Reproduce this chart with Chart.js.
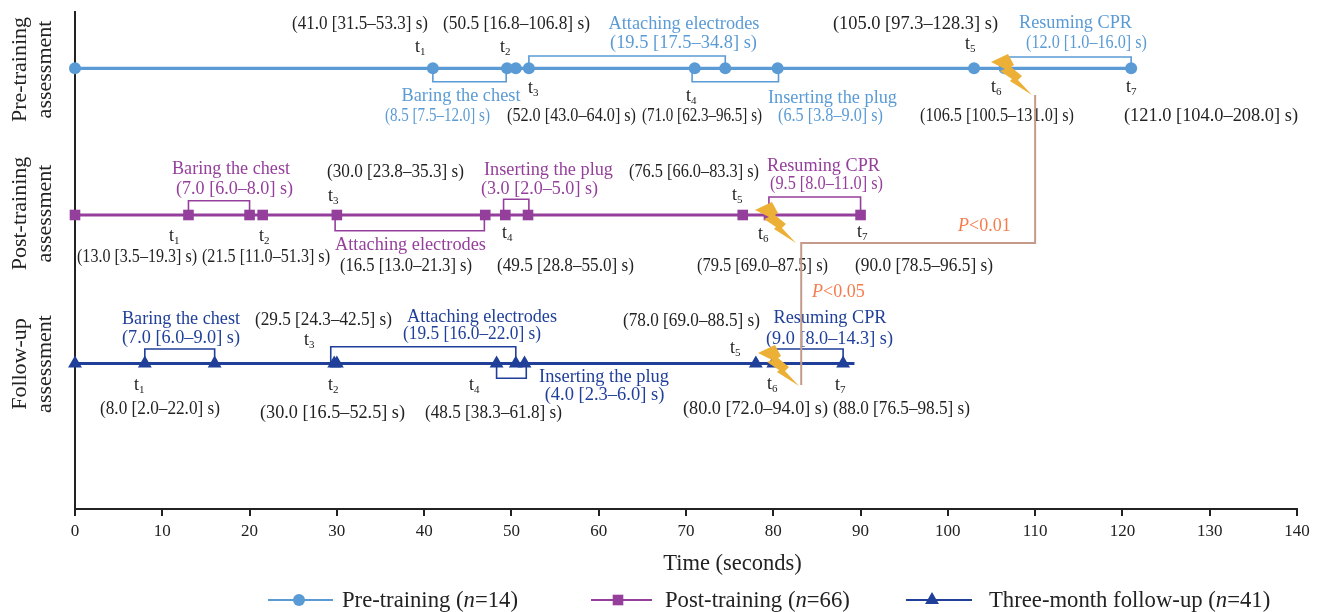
<!DOCTYPE html>
<html><head><meta charset="utf-8">
<style>html,body{margin:0;padding:0;background:#fff}canvas{display:block}</style>
<script src="https://cdn.jsdelivr.net/npm/chart.js@4/dist/chart.umd.js"></script>
</head><body><canvas id="c" width="1322" height="612"></canvas>
<script>
// ---- data (seconds) ----
const preTimes    = [0, 41, 49.5, 50.5, 52, 71, 74.5, 80.5, 103, 106.5, 121];
const postTimes   = [0, 13, 20, 21.5, 30, 47, 49.3, 51.9, 76.5, 79.5, 90];
const followTimes = [0, 8, 16, 29.7, 30, 48.3, 50.5, 51.5, 78, 80, 88, 89.3];
const followRadii = [8, 8, 8, 8, 8, 8, 8, 8, 8, 8, 8, 0];
const rowLevels = {pre: 56.3, post: 203, follow: 351.5};
const xTicks = [0, 10, 20, 30, 40, 50, 60, 70, 80, 90, 100, 110, 120, 130, 140];

// interval brackets: [from s, to s, bracket level]
const preBrackets    = [[41, 49.4, 69.7], [52, 74.5, 44], [70.7, 80.6, 69.7], [106.5, 121, 45]];
const postBrackets   = [[13, 20, 188.7], [29.8, 46.9, 218.7], [49.1, 52, 187.3], [79.5, 90, 185]];
const followBrackets = [[8, 16, 337], [29.3, 50.5, 334.7], [48.3, 51.7, 366.3], [80, 88, 337]];

// bolt anchors: [s, level]
const boltAnchors = [[104.94, 42], [77.9, 190], [78.25, 333]];
// significance connector: [s, level] vertices
const pConnector = [[110, 83], [110, 231], [83.2, 231], [83.2, 373]];

const COL = {pre:'#5B9BD5', post:'#953F9C', follow:'#1F3F99', ink:'#222222',
             bolt:'#EBB035', conn:'#C49B8B', p:'#F47C4C'};
const FAM = '"Liberation Serif","Times New Roman",serif';

// ---- text: [string, centre x, centre y, width] ----
const blackLabels = [
 ['(41.0 [31.5–53.3] s)',360,23,136],['(50.5 [16.8–106.8] s)',516.5,23,147],['(105.0 [97.3–128.3] s)',915.5,23,165],
 ['(52.0 [43.0–64.0] s)',571.5,115,129],['(71.0 [62.3–96.5] s)',702,115,120],['(106.5 [100.5–131.0] s)',997,115,154],['(121.0 [104.0–208.0] s)',1211,115,174],
 ['(30.0 [23.8–35.3] s)',395.5,171,137],['(76.5 [66.0–83.3] s)',694,171,130],
 ['(13.0 [3.5–19.3] s)',137,256,120],['(21.5 [11.0–51.3] s)',266,256,128],['(16.5 [13.0–21.3] s)',406,265,132],['(49.5 [28.8–55.0] s)',565.5,265,137],
 ['(79.5 [69.0–87.5] s)',762.5,265,131],['(90.0 [78.5–96.5] s)',924,265,138],
 ['(29.5 [24.3–42.5] s)',323.5,319,137],['(78.0 [69.0–88.5] s)',691.5,320,137],
 ['(8.0 [2.0–22.0] s)',160,408,120],['(30.0 [16.5–52.5] s)',332.5,412,145],['(48.5 [38.3–61.8] s)',493.5,412,137],
 ['(80.0 [72.0–94.0] s)',755.5,408,145],['(88.0 [76.5–98.5] s)',901.5,408,137]
];
const preLabels = [
 ['Attaching electrodes',684,23,151],['(19.5 [17.5–34.8] s)',683.5,42,147],['Baring the chest',461,95,119],['(8.5 [7.5–12.0] s)',437.5,114.5,105],
 ['Inserting the plug',832.5,97,129],['(6.5 [3.8–9.0] s)',830.5,115,105],['Resuming CPR',1075.5,22,113],['(12.0 [1.0–16.0] s)',1086.5,42,121]
];
const postLabels = [
 ['Baring the chest',231,168,118],['(7.0 [6.0–8.0] s)',234.5,188,117],['Inserting the plug',548.5,169,129],['(3.0 [2.0–5.0] s)',539.5,188,117],
 ['Resuming CPR',823.5,165,113],['(9.5 [8.0–11.0] s)',826.5,183,113],['Attaching electrodes',410.5,244,151]
];
const followLabels = [
 ['Baring the chest',181,318,118],['(7.0 [6.0–9.0] s)',181,337,118],['Attaching electrodes',482,316,150],['(19.5 [16.0–22.0] s)',472,333,138],
 ['Inserting the plug',604,376,130],['(4.0 [2.3–6.0] s)',604.5,394,120],['Resuming CPR',830,317,113],['(9.0 [8.0–14.3] s)',829.5,338,127]
];
const stepLabels = [
 ['1',421,47],['2',506,47],['3',534,88],['4',692,96],['5',971,44],['6',997,87],['7',1132,87],
 ['1',175,236],['2',265,236],['3',334,196],['4',508,233],['5',738,195],['6',764,234],['7',863,232],
 ['1',140,385],['2',334,385],['3',310,340],['4',475,385],['5',736,348],['6',773,384],['7',841,385]
];
const rowTitles = [['Pre-training','assessment',69.5],['Post-training','assessment',213.5],['Follow-up','assessment',364]];
const legendEntries = [
 {name:'pre', line:[268,333], mark:299, runs:[['Pre-training (',0],['n',1],['=14)',0]], tx:342, style:'circle', r:6},
 {name:'post', line:[591,652], mark:618, runs:[['Post-training (',0],['n',1],['=66)',0]], tx:665, style:'rect', r:7.5},
 {name:'follow', line:[906,972], mark:932, runs:[['Three-month follow-up (',0],['n',1],['=41)',0]], tx:989, style:'triangle', r:8}
];
const xTitle = ['Time (seconds)',732.5,563,139];

const boltShape = [[0,8],[17,0],[23,11],[20,13],[31,22],[27,26],[41,41],[19,27],[21,25],[9,17],[14,15]];

function centerText(ctx, list, color, size){
  ctx.fillStyle = color; ctx.font = size+'px '+FAM; ctx.textAlign='center'; ctx.textBaseline='middle';
  list.forEach(([s,x,y,w])=>ctx.fillText(s,x,y+1.5,w));
}
function runs(ctx, list, x, y, size, color){
  ctx.fillStyle=color; ctx.textAlign='left'; ctx.textBaseline='middle';
  list.forEach(([s,it])=>{ ctx.font=(it?'italic ':'')+size+'px '+FAM; ctx.fillText(s,x,y); x+=ctx.measureText(s).width; });
}

const annotate = {
  id:'annotate',
  beforeDatasetsDraw(chart){
    const {ctx,scales:{x,y}} = chart;
    ctx.save(); ctx.lineWidth=1.6; ctx.lineJoin='miter';
    [[preBrackets,COL.pre,rowLevels.pre],[postBrackets,COL.post,rowLevels.post],[followBrackets,COL.follow,rowLevels.follow]].forEach(([b,c,lv])=>{
      ctx.strokeStyle=c;
      b.forEach(([a,e,l])=>{
        ctx.beginPath();
        ctx.moveTo(x.getPixelForValue(a),y.getPixelForValue(lv));
        ctx.lineTo(x.getPixelForValue(a),y.getPixelForValue(l));
        ctx.lineTo(x.getPixelForValue(e),y.getPixelForValue(l));
        ctx.lineTo(x.getPixelForValue(e),y.getPixelForValue(lv));
        ctx.stroke();
      });
    });
    ctx.restore();
  },
  afterDatasetsDraw(chart){
    const {ctx,scales:{x,y}} = chart;
    ctx.save();
    // text
    centerText(ctx,blackLabels,COL.ink,18.5);
    centerText(ctx,preLabels,COL.pre,18.5);
    centerText(ctx,postLabels,COL.post,18.5);
    centerText(ctx,followLabels,COL.follow,18.5);
    centerText(ctx,[xTitle],COL.ink,22.5);
    // bolts
    ctx.fillStyle=COL.bolt;
    boltAnchors.forEach(([s,l])=>{
      const ox=x.getPixelForValue(s), oy=y.getPixelForValue(l);
      ctx.beginPath();
      boltShape.forEach(([a,b],i)=> i? ctx.lineTo(ox+a,oy+b):ctx.moveTo(ox+a,oy+b));
      ctx.closePath(); ctx.fill();
    });
    // connector
    ctx.strokeStyle=COL.conn; ctx.lineWidth=2; ctx.beginPath();
    pConnector.forEach(([s,l],i)=>{const a=x.getPixelForValue(s),b=y.getPixelForValue(l); i?ctx.lineTo(a,b):ctx.moveTo(a,b);});
    ctx.stroke();
    runs(ctx,[['P',1],['<0.01',0]],958,226,18,COL.p);
    runs(ctx,[['P',1],['<0.05',0]],812,292,18,COL.p);
    // t labels
    ctx.fillStyle=COL.ink; ctx.textAlign='left'; ctx.textBaseline='alphabetic';
    stepLabels.forEach(([n,px,py])=>{
      ctx.font='18px '+FAM; ctx.fillText('t',px-6,py+5);
      const w=ctx.measureText('t').width;
      ctx.font='11px '+FAM; ctx.fillText(n,px-6+w,py+8);
    });
    // row titles
    ctx.fillStyle='#222'; ctx.font='22px '+FAM; ctx.textAlign='center'; ctx.textBaseline='middle';
    rowTitles.forEach(([a,b,py])=>{
      ctx.save(); ctx.translate(20,py); ctx.rotate(-Math.PI/2); ctx.fillText(a,0,0); ctx.restore();
      ctx.save(); ctx.translate(45,py); ctx.rotate(-Math.PI/2); ctx.fillText(b,0,0); ctx.restore();
    });
    // legend
    legendEntries.forEach(e=>{
      const c=COL[e.name];
      ctx.strokeStyle=c; ctx.lineWidth=2; ctx.beginPath(); ctx.moveTo(e.line[0],600); ctx.lineTo(e.line[1],600); ctx.stroke();
      ctx.fillStyle=c;
      Chart.helpers.drawPoint(ctx,{pointStyle:e.style,radius:e.r,rotation:0,borderWidth:0},e.mark,600);
      runs(ctx,e.runs,e.tx,601,22.7,COL.ink);
    });
    ctx.restore();
  }
};

const mk=(times,row)=>times.map(t=>({x:t,y:row}));
new Chart(document.getElementById('c'),{
  type:'scatter',
  data:{datasets:[
    {label:'Pre-training (n=14)',data:mk(preTimes,rowLevels.pre),showLine:true,clip:false,borderColor:COL.pre,backgroundColor:COL.pre,borderWidth:3.2,pointStyle:'circle',pointRadius:6,pointBorderWidth:0},
    {label:'Post-training (n=66)',data:mk(postTimes,rowLevels.post),showLine:true,clip:false,borderColor:COL.post,backgroundColor:COL.post,borderWidth:3.2,pointStyle:'rect',pointRadius:7.5,pointBorderWidth:0},
    {label:'Three-month follow-up (n=41)',data:mk(followTimes,rowLevels.follow),showLine:true,clip:false,borderColor:COL.follow,backgroundColor:COL.follow,borderWidth:3.2,pointStyle:'triangle',pointRadius:followRadii,pointBorderWidth:0}
  ]},
  options:{
    responsive:false,animation:false,
    layout:{padding:{left:75,right:25,top:12,bottom:0}},
    plugins:{legend:{display:false},tooltip:{enabled:false}},
    scales:{
      x:{type:'linear',min:0,max:140,
        afterFit(s){s.height=103;},
        afterBuildTicks(s){s.ticks=xTicks.map(v=>({value:v}));},
        grid:{drawOnChartArea:false,drawTicks:true,tickLength:7,color:COL.ink,lineWidth:2},
        border:{color:COL.ink,width:2},
        ticks:{color:COL.ink,font:{family:FAM,size:17},maxRotation:0,padding:5}},
      y:{type:'linear',min:0,max:497,reverse:true,
        afterFit(s){s.width=0;},
        grid:{display:false},
        border:{color:COL.ink,width:2},
        ticks:{display:false}}
    }
  },
  plugins:[annotate]
});
</script></body></html>
